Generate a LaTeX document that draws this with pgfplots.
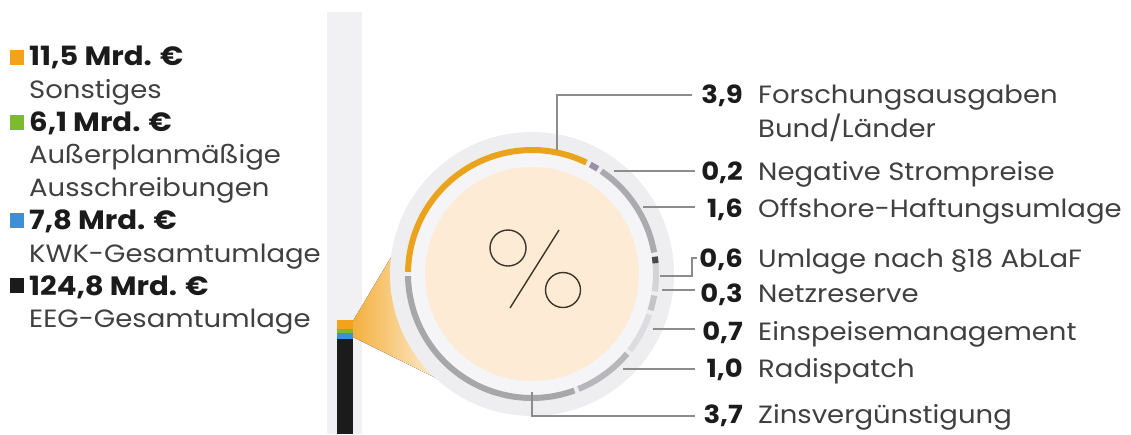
\documentclass[border=0pt]{standalone}
\usepackage{pgfplots}
\pgfplotsset{compat=1.18}
\usepackage{fontspec}
\setmainfont{Poppins}[FakeStretch=1.10]
\definecolor{cOrange}{HTML}{F2A21C}
\definecolor{cGreen}{HTML}{7DBA2E}
\definecolor{cBlue}{HTML}{3D8FD6}
\definecolor{cBlack}{HTML}{1B1B1B}
\definecolor{rOrange}{HTML}{EBA31C}
\definecolor{rPurple}{HTML}{9A8FA8}
\definecolor{rGray}{HTML}{ABABAF}
\definecolor{rUmlage}{HTML}{D3D3D8}
\definecolor{rNetz}{HTML}{C3C3C8}
\definecolor{rEins}{HTML}{DCDCE0}
\definecolor{rRadi}{HTML}{B7B7BB}
\definecolor{rZins}{HTML}{A7A7AA}
\definecolor{strip}{HTML}{F1F1F3}
\definecolor{outer}{HTML}{EEEEF1}
\definecolor{inner}{HTML}{F5F5F8}
\definecolor{peach}{HTML}{FDEBD6}
\definecolor{lead}{HTML}{8C8C8C}
\definecolor{txt}{HTML}{404040}
\definecolor{pct}{HTML}{3E3428}
\newcommand\lft{\fontsize{25}{30}\selectfont}
\newcommand\lfb{\fontsize{26.5}{30}\selectfont\bfseries}
\newcommand\rgt{\fontsize{25}{28}\selectfont}
\begin{document}
\begin{tikzpicture}
\begin{axis}[
  at={(0pt,0pt)}, anchor=south west,
  width=1131pt, height=434pt, scale only axis,
  xmin=0, xmax=1131, ymin=0, ymax=434, y dir=reverse,
  hide axis, clip=false]
% background strip
\fill[strip] (axis cs:327,12) rectangle (axis cs:362,434);
% cone
\fill[left color=cOrange!85, right color=cOrange!10]
  (axis cs:353,321) -- (axis cs:412,222) -- (axis cs:450,385) -- (axis cs:353,337) -- cycle;
% disks
\fill[outer] (axis cs:532,274) circle[radius=142pt];
\fill[inner] (axis cs:532,274) circle[radius=121pt];
\fill[peach] (axis cs:532,274) circle[radius=107pt];
% ring from data (clockwise from 180 deg, 30 deg per unit)
\def\acc{180}
\foreach \v/\c in {3.9/rOrange,0.2/rPurple,1.6/rGray,0.6/rUmlage,0.3/rNetz,0.7/rEins,1.0/rRadi,3.7/rZins}{
  \pgfmathsetmacro\sa{\acc-1}
  \pgfmathsetmacro\ea{\acc-30*\v+1}
  \pgfmathsetmacro\nacc{\acc-30*\v}
  \edef\temp{\noexpand\draw[line width=6pt,\c] ([shift={(\sa:124pt)}]axis cs:532,274) arc[start angle=\sa,end angle=\ea,radius=124pt];}
  \temp
  \xdef\acc{\nacc}
}
% dark tick of Umlage segment
\draw[line width=6pt, cBlack!80] ([shift={(8:124pt)}]axis cs:532,274) arc[start angle=8,end angle=5,radius=124pt];
% percent icon
\draw[pct, line width=1.4pt] (axis cs:508,248) circle[radius=18pt];
\draw[pct, line width=1.4pt] (axis cs:563,290) circle[radius=17.5pt];
\draw[pct, line width=1.4pt] (axis cs:559,230) -- (axis cs:510,308);
% leader lines
\begin{scope}[lead, line width=1.5pt]
\draw (axis cs:557,150) -- (axis cs:557,95) -- (axis cs:692,95);
\draw (axis cs:614,171) -- (axis cs:695,171);
\draw (axis cs:643,207) -- (axis cs:695,207);
\draw (axis cs:660,276) -- (axis cs:692,276) -- (axis cs:692,258) -- (axis cs:697,258);
\draw (axis cs:662,290) -- (axis cs:695,290);
\draw (axis cs:653,329) -- (axis cs:695,329);
\draw (axis cs:623,369) -- (axis cs:695,369);
\draw (axis cs:532,392) -- (axis cs:532,416) -- (axis cs:695,416);
\end{scope}
% left legend
\fill[cOrange] (axis cs:10,50) rectangle (axis cs:24,65);
\fill[cGreen]  (axis cs:10,115) rectangle (axis cs:24,130);
\fill[cBlue]   (axis cs:10,213) rectangle (axis cs:24,228);
\fill[cBlack]  (axis cs:10,278) rectangle (axis cs:24,293);
\begin{scope}[every node/.style={anchor=base west, inner sep=0pt, text=txt}]
\node[text=cBlack] at (axis cs:29,65) {\lfb 11,5 Mrd. €};
\node at (axis cs:29,98) {\lft Sonstiges};
\node[text=cBlack] at (axis cs:29,131) {\lfb 6,1 Mrd. €};
\node at (axis cs:29,163) {\lft Außerplanmäßige};
\node at (axis cs:29,196) {\lft Ausschreibungen};
\node[text=cBlack] at (axis cs:29,229) {\lfb 7,8 Mrd. €};
\node at (axis cs:29,262) {\lft KWK-Gesamtumlage};
\node[text=cBlack] at (axis cs:29,295) {\lfb 124,8 Mrd. €};
\node at (axis cs:29,327) {\lft EEG-Gesamtumlage};
% right labels
\node at (axis cs:758,103) {\rgt Forschungsausgaben};
\node at (axis cs:758,137) {\rgt Bund/Länder};
\node at (axis cs:758,180) {\rgt Negative Strompreise};
\node at (axis cs:758,217) {\rgt Offshore-Haftungsumlage};
\node at (axis cs:758,267) {\rgt Umlage nach §18 AbLaF};
\node at (axis cs:758,302) {\rgt Netzreserve};
\node at (axis cs:758,340) {\rgt Einspeisemanagement};
\node at (axis cs:758,377) {\rgt Radispatch};
\node at (axis cs:758,423) {\rgt Zinsvergünstigung};
\end{scope}
\begin{scope}[every node/.style={anchor=base east, inner sep=0pt, text=cBlack}]
\node at (axis cs:743,103) {\rgt\bfseries 3,9};
\node at (axis cs:743,180) {\rgt\bfseries 0,2};
\node at (axis cs:743,217) {\rgt\bfseries 1,6};
\node at (axis cs:743,267) {\rgt\bfseries 0,6};
\node at (axis cs:743,302) {\rgt\bfseries 0,3};
\node at (axis cs:743,340) {\rgt\bfseries 0,7};
\node at (axis cs:743,377) {\rgt\bfseries 1,0};
\node at (axis cs:743,423) {\rgt\bfseries 3,7};
\end{scope}
\end{axis}
% stacked bar of the total
\begin{axis}[
  at={(337pt,0pt)}, anchor=south west,
  width=16pt, height=114pt, scale only axis,
  xmin=-0.5, xmax=0.5, ymin=0, ymax=150.2,
  hide axis, clip=false,
  ybar stacked, bar width=16pt]
\addplot[fill=cBlack, draw=none] coordinates {(0,124.8)};
\addplot[fill=cBlue, draw=none] coordinates {(0,7.8)};
\addplot[fill=cGreen, draw=none] coordinates {(0,6.1)};
\addplot[fill=cOrange, draw=none] coordinates {(0,11.5)};
\end{axis}
\pgfresetboundingbox
\useasboundingbox (0,0) rectangle (1131pt,434pt);
\end{tikzpicture}
\end{document}
